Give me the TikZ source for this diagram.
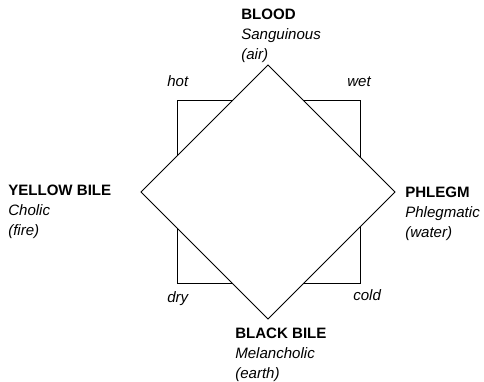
\documentclass[tikz,border=0pt]{standalone}
\usepackage{fontspec}
\setmainfont{Liberation Sans}
\begin{document}
\begin{tikzpicture}[x=0.75pt,y=-0.75pt,
  shapeline/.style={draw=black,line width=0.6pt},
  humour/.style={anchor=base west,inner sep=0pt,align=left,font=\fontsize{11.3}{15}\selectfont},
  quality/.style={anchor=base west,inner sep=0pt,font=\fontsize{11.3}{15}\selectfont\itshape}]
\useasboundingbox (0,0) rectangle (484,381);
% square
\coordinate (sq1) at (177,100);
\coordinate (sq2) at (360,283);
\draw[shapeline] (sq1) rectangle (sq2);
% diamond
\coordinate (dt) at (268,65);
\coordinate (dr) at (395,192);
\coordinate (db) at (268,319);
\coordinate (dl) at (141,192);
\filldraw[shapeline,fill=white] (dt) -- (dr) -- (db) -- (dl) -- cycle;
% humours (anchor = baseline of last line)
\node[humour] (blood) at (241,60) {\textbf{BLOOD}\\\textit{Sanguinous}\\\textit{(air)}};
\node[humour] (yellow) at (8,235) {\textbf{YELLOW BILE}\\\textit{Cholic}\\\textit{(fire)}};
\node[humour] (phlegm) at (405,237) {\textbf{PHLEGM}\\\textit{Phlegmatic}\\\textit{(water)}};
\node[humour] (black) at (235,378) {\textbf{BLACK BILE}\\\textit{Melancholic}\\\textit{(earth)}};
% qualities
\node[quality] (hot) at (167,87) {hot};
\node[quality] (wet) at (347,87) {wet};
\node[quality] (dry) at (167,302) {dry};
\node[quality] (cold) at (353,300) {cold};
\end{tikzpicture}
\end{document}
